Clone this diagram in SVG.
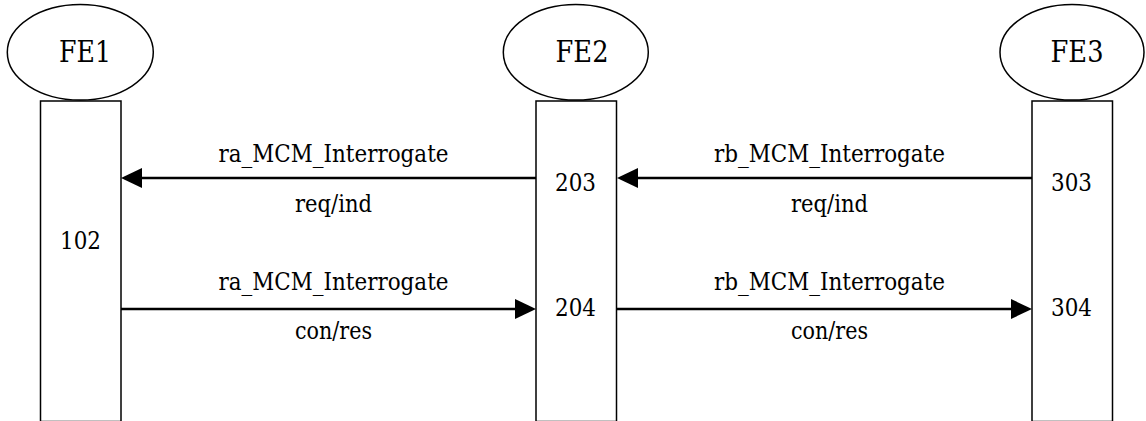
<svg xmlns="http://www.w3.org/2000/svg" width="1146" height="421" viewBox="0 0 1146 421">
<style>
.shape{fill:#fff;stroke:#000;stroke-width:1.5}
.lbl{font-family:"DejaVu Serif","Liberation Serif",serif;font-size:24px;fill:#000;text-anchor:middle}
.fe{font-family:"DejaVu Serif","Liberation Serif",serif;font-size:29px;fill:#000;text-anchor:middle}
.msg{stroke:#000;stroke-width:2.5;fill:none;marker-end:url(#ah)}
</style>
<defs>
<marker id="ah" markerWidth="22" markerHeight="20" refX="0" refY="10" orient="auto" markerUnits="userSpaceOnUse">
<path d="M0,0 L21,10 L0,20 Z" fill="#000"/>
</marker>
</defs>
<rect width="1146" height="421" fill="#fff"/>
<g id="fe1">
<ellipse class="shape" cx="80.3" cy="52.3" rx="73" ry="47.7"/>
<text class="fe" x="85" y="62" textLength="52" lengthAdjust="spacingAndGlyphs">FE1</text>
<rect class="shape" x="40.5" y="101" width="80.5" height="320.5"/>
<text class="lbl" x="80.5" y="249" textLength="41" lengthAdjust="spacingAndGlyphs">102</text>
</g>
<g id="fe2">
<ellipse class="shape" cx="575.8" cy="52.3" rx="72.5" ry="47.7"/>
<text class="fe" x="582" y="62" textLength="53" lengthAdjust="spacingAndGlyphs">FE2</text>
<rect class="shape" x="536" y="101" width="80.5" height="320.5"/>
<text class="lbl" x="575.5" y="190.5" textLength="41" lengthAdjust="spacingAndGlyphs">203</text>
<text class="lbl" x="575.5" y="315.5" textLength="41" lengthAdjust="spacingAndGlyphs">204</text>
</g>
<g id="fe3">
<ellipse class="shape" cx="1072" cy="52.3" rx="72" ry="47.7"/>
<text class="fe" x="1077" y="62" textLength="53" lengthAdjust="spacingAndGlyphs">FE3</text>
<rect class="shape" x="1032" y="101" width="80.5" height="320.5"/>
<text class="lbl" x="1071.5" y="190.5" textLength="41" lengthAdjust="spacingAndGlyphs">303</text>
<text class="lbl" x="1071.5" y="315.5" textLength="41" lengthAdjust="spacingAndGlyphs">304</text>
</g>
<g id="connectors">
<line class="msg" x1="536" y1="178" x2="142" y2="178"/>
<line class="msg" x1="121" y1="309" x2="515" y2="309"/>
<line class="msg" x1="1032" y1="178" x2="638" y2="178"/>
<line class="msg" x1="616.5" y1="309" x2="1011" y2="309"/>
<text class="lbl" x="333.5" y="162" textLength="230" lengthAdjust="spacingAndGlyphs">ra_MCM_Interrogate</text>
<text class="lbl" x="333.5" y="212" textLength="77" lengthAdjust="spacingAndGlyphs">req/ind</text>
<text class="lbl" x="333.5" y="290" textLength="230" lengthAdjust="spacingAndGlyphs">ra_MCM_Interrogate</text>
<text class="lbl" x="333.5" y="339" textLength="77" lengthAdjust="spacingAndGlyphs">con/res</text>
<text class="lbl" x="829.5" y="162" textLength="231" lengthAdjust="spacingAndGlyphs">rb_MCM_Interrogate</text>
<text class="lbl" x="829.5" y="212" textLength="77" lengthAdjust="spacingAndGlyphs">req/ind</text>
<text class="lbl" x="829.5" y="290" textLength="231" lengthAdjust="spacingAndGlyphs">rb_MCM_Interrogate</text>
<text class="lbl" x="829.5" y="339" textLength="77" lengthAdjust="spacingAndGlyphs">con/res</text>
</g>
</svg>
